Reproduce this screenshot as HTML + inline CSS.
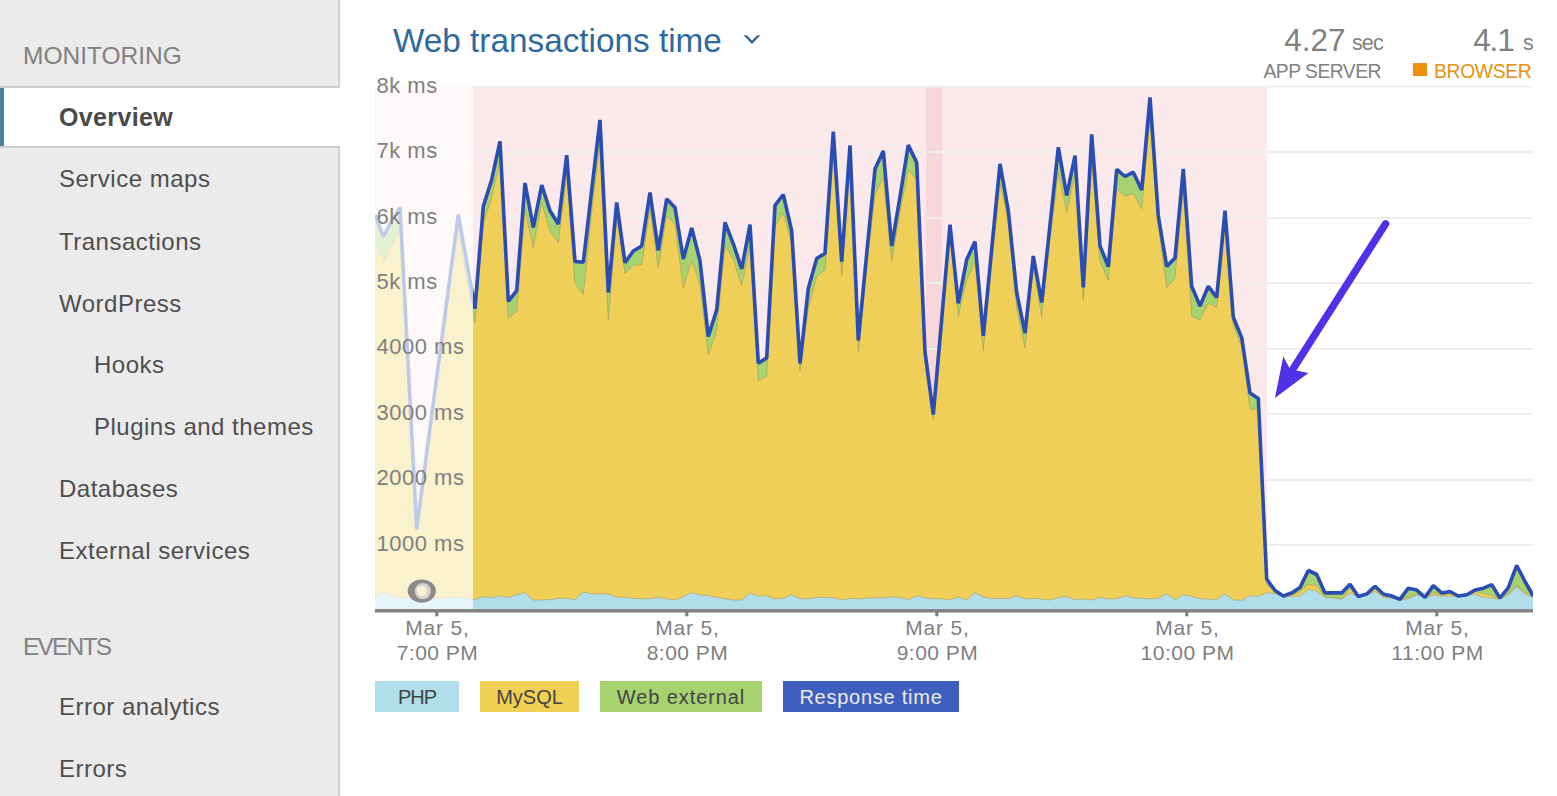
<!DOCTYPE html>
<html><head><meta charset="utf-8"><style>
html,body{margin:0;padding:0;}
body{width:1557px;height:796px;position:relative;overflow:hidden;background:#ffffff;font-family:"Liberation Sans", sans-serif;}
</style></head><body>
<div style="position:absolute;left:0;top:0;width:338px;height:796px;background:#ebebeb;"></div>
<div style="position:absolute;left:337px;top:0;width:1px;height:796px;background:#efefef;"></div>
<div style="position:absolute;left:338px;top:0;width:2px;height:796px;background:#d0d0d0;"></div>
<div style="position:absolute;left:0;top:86px;width:340px;height:2px;background:#cecece;"></div>
<div style="position:absolute;left:0;top:88px;width:340px;height:58px;background:#ffffff;"></div>
<div style="position:absolute;left:0;top:146px;width:340px;height:2px;background:#cecece;"></div>
<div style="position:absolute;left:0;top:88px;width:4px;height:58px;background:#4b7f9b;"></div>
<div style="position:absolute;left:23px;top:43.66px;font-size:24.5px;line-height:24.5px;color:#818181;font-weight:400;letter-spacing:0px;white-space:nowrap;">MONITORING</div>
<div style="position:absolute;left:59px;top:104.64px;font-size:25px;line-height:25px;color:#4a4a4a;font-weight:700;letter-spacing:0.35px;white-space:nowrap;">Overview</div>
<div style="position:absolute;left:59px;top:167.48px;font-size:24px;line-height:24px;color:#4e4e4e;font-weight:400;letter-spacing:0.5px;white-space:nowrap;">Service maps</div>
<div style="position:absolute;left:59px;top:229.98px;font-size:24px;line-height:24px;color:#4e4e4e;font-weight:400;letter-spacing:0.5px;white-space:nowrap;">Transactions</div>
<div style="position:absolute;left:59px;top:292.08px;font-size:24px;line-height:24px;color:#4e4e4e;font-weight:400;letter-spacing:0.5px;white-space:nowrap;">WordPress</div>
<div style="position:absolute;left:94px;top:353.28px;font-size:24px;line-height:24px;color:#4e4e4e;font-weight:400;letter-spacing:0.5px;white-space:nowrap;">Hooks</div>
<div style="position:absolute;left:94px;top:415.48px;font-size:24px;line-height:24px;color:#4e4e4e;font-weight:400;letter-spacing:0.5px;white-space:nowrap;">Plugins and themes</div>
<div style="position:absolute;left:59px;top:477.48px;font-size:24px;line-height:24px;color:#4e4e4e;font-weight:400;letter-spacing:0.5px;white-space:nowrap;">Databases</div>
<div style="position:absolute;left:59px;top:539.48px;font-size:24px;line-height:24px;color:#4e4e4e;font-weight:400;letter-spacing:0.5px;white-space:nowrap;">External services</div>
<div style="position:absolute;left:59px;top:695.08px;font-size:24px;line-height:24px;color:#4e4e4e;font-weight:400;letter-spacing:0.5px;white-space:nowrap;">Error analytics</div>
<div style="position:absolute;left:59px;top:757.48px;font-size:24px;line-height:24px;color:#4e4e4e;font-weight:400;letter-spacing:0.5px;white-space:nowrap;">Errors</div>
<div style="position:absolute;left:23px;top:634.56px;font-size:24.5px;line-height:24.5px;color:#818181;font-weight:400;letter-spacing:-1.8px;white-space:nowrap;">EVENTS</div>
<div style="position:absolute;left:393px;top:23.81px;font-size:33.3px;line-height:33.3px;color:#30699b;font-weight:400;letter-spacing:0px;white-space:nowrap;">Web transactions time</div>
<svg style="position:absolute;left:0;top:0" width="1557" height="796"><path d="M743.6,35.2 L746.9,35.2 L752,40.5 L757.1,35.2 L760.4,35.2 L752,43.9 Z" fill="#30699b"/></svg>
<div style="position:absolute;right:211.5px;top:24.74px;font-size:31.5px;line-height:31.5px;color:#818181;font-weight:400;letter-spacing:0px;white-space:nowrap;">4.27</div>
<div style="position:absolute;left:1352px;top:33.20px;font-size:21.5px;line-height:21.5px;color:#818181;font-weight:400;letter-spacing:-0.9px;white-space:nowrap;">sec</div>
<div style="position:absolute;right:176px;top:61.86px;font-size:19.3px;line-height:19.3px;color:#818181;font-weight:400;letter-spacing:-0.5px;white-space:nowrap;">APP SERVER</div>
<div style="position:absolute;right:43.5px;top:24.74px;font-size:31.5px;line-height:31.5px;color:#818181;font-weight:400;letter-spacing:-1.2px;white-space:nowrap;">4.1</div>
<div style="position:absolute;left:1523px;top:33.20px;font-size:21.5px;line-height:21.5px;color:#818181;font-weight:400;letter-spacing:0px;white-space:nowrap;">s</div>
<div style="position:absolute;left:1413px;top:63px;width:13.5px;height:13px;background:#ef900c;"></div>
<div style="position:absolute;right:25.5px;top:61.86px;font-size:19.3px;line-height:19.3px;color:#e8900f;font-weight:400;letter-spacing:-0.3px;white-space:nowrap;">BROWSER</div>
<svg style="position:absolute;left:0;top:0" width="1557" height="796"><defs><clipPath id="pc"><rect x="375" y="60" width="1158" height="560"/></clipPath></defs><rect x="473" y="86" width="794" height="523" fill="#fbe9eb"/><rect x="375" y="86" width="98" height="523" fill="#fbe9eb"/><rect x="926" y="86" width="16" height="523" fill="#f8d6da"/><rect x="375" y="85.8" width="1158" height="1.6" fill="#eeeeee"/><rect x="375" y="151" width="1158" height="2" fill="#eeeeee"/><rect x="375" y="217" width="1158" height="2" fill="#eeeeee"/><rect x="375" y="282" width="1158" height="2" fill="#eeeeee"/><rect x="375" y="348" width="1158" height="2" fill="#eeeeee"/><rect x="375" y="413" width="1158" height="2" fill="#eeeeee"/><rect x="375" y="479" width="1158" height="2" fill="#eeeeee"/><rect x="375" y="544" width="1158" height="2" fill="#eeeeee"/><g clip-path="url(#pc)"><path d="M375.0,609 L375.0,215.0 383.3,236.5 391.7,221.0 400.0,207.6 408.3,368.0 416.7,529.0 425.0,466.0 433.3,403.0 441.7,340.0 450.0,277.0 458.3,214.6 466.7,262.0 475.0,308.7 483.3,206.4 491.7,179.7 500.0,141.3 508.3,301.3 516.7,290.6 525.0,183.0 533.3,227.5 541.7,185.0 550.0,210.7 558.3,224.0 566.7,155.1 575.0,261.5 583.3,262.3 591.7,190.0 600.0,119.9 608.3,292.5 616.7,202.5 625.0,262.8 633.3,251.0 641.7,246.0 650.0,192.5 658.3,250.5 666.7,198.9 675.0,207.5 683.3,259.0 691.7,228.0 700.0,260.7 708.3,336.5 716.7,309.8 725.0,222.5 733.3,243.8 741.7,269.0 750.0,224.6 758.3,363.2 766.7,357.9 775.0,205.3 783.3,194.7 791.7,231.0 800.0,363.5 808.3,288.4 816.7,258.5 825.0,253.3 833.3,131.6 841.7,261.7 850.0,145.5 858.3,340.5 866.7,253.8 875.0,169.0 883.3,151.0 891.7,246.0 900.0,196.8 908.3,145.0 916.7,162.6 925.0,352.0 933.3,414.5 941.7,319.0 950.0,224.6 958.3,303.3 966.7,259.6 975.0,241.6 983.3,335.8 991.7,249.0 1000.0,163.8 1008.3,210.7 1016.7,292.7 1025.0,333.0 1033.3,256.0 1041.7,302.5 1050.0,225.0 1058.3,147.3 1066.7,195.5 1075.0,155.5 1083.3,287.4 1091.7,134.3 1100.0,245.9 1108.3,266.5 1116.7,169.3 1125.0,176.5 1133.3,172.2 1141.7,190.0 1150.0,97.5 1158.3,216.0 1166.7,266.5 1175.0,258.0 1183.3,169.0 1191.7,286.3 1200.0,306.0 1208.3,286.3 1216.7,297.5 1225.0,210.7 1233.3,317.3 1241.7,337.6 1250.0,393.1 1258.3,398.4 1266.7,579.0 1275.0,590.5 1283.3,596.0 1291.7,592.9 1300.0,587.6 1308.3,570.5 1316.7,574.5 1325.0,592.9 1333.3,592.9 1341.7,592.9 1350.0,584.3 1358.3,596.4 1366.7,594.0 1375.0,586.2 1383.3,594.0 1391.7,596.0 1400.0,599.3 1408.3,588.2 1416.7,590.1 1425.0,597.4 1433.3,585.6 1441.7,592.9 1450.0,591.5 1458.3,596.0 1466.7,594.8 1475.0,590.1 1483.3,588.2 1491.7,584.6 1500.0,598.0 1508.3,587.6 1516.7,565.5 1525.0,581.5 1533.3,596.0 L1533.3,609 Z" fill="#a6d270" stroke="none"/><path d="M375.0,609 L375.0,239.0 383.3,262.5 391.7,245.0 400.0,229.6 408.3,375.0 416.7,531.0 425.0,470.0 433.3,407.0 441.7,345.0 450.0,283.0 458.3,229.6 466.7,280.0 475.0,322.7 483.3,223.4 491.7,197.7 500.0,160.3 508.3,318.3 516.7,311.6 525.0,210.0 533.3,247.5 541.7,203.0 550.0,230.7 558.3,243.0 566.7,175.1 575.0,283.5 583.3,294.3 591.7,212.0 600.0,142.9 608.3,320.5 616.7,217.5 625.0,273.8 633.3,265.0 641.7,265.0 650.0,208.5 658.3,267.5 666.7,215.9 675.0,224.5 683.3,288.0 691.7,260.0 700.0,285.7 708.3,354.5 716.7,330.8 725.0,245.5 733.3,258.8 741.7,286.0 750.0,245.6 758.3,381.2 766.7,375.9 775.0,226.3 783.3,212.7 791.7,244.0 800.0,371.5 808.3,308.4 816.7,276.5 825.0,270.3 833.3,146.6 841.7,275.7 850.0,157.5 858.3,351.5 866.7,265.8 875.0,195.0 883.3,177.0 891.7,261.0 900.0,211.8 908.3,170.0 916.7,179.6 925.0,362.0 933.3,419.5 941.7,327.0 950.0,234.6 958.3,316.3 966.7,279.6 975.0,261.6 983.3,350.8 991.7,261.0 1000.0,182.8 1008.3,220.7 1016.7,307.7 1025.0,348.0 1033.3,266.0 1041.7,317.5 1050.0,237.0 1058.3,172.3 1066.7,212.5 1075.0,173.5 1083.3,300.4 1091.7,161.3 1100.0,260.9 1108.3,280.5 1116.7,188.3 1125.0,196.5 1133.3,193.2 1141.7,209.0 1150.0,117.5 1158.3,224.0 1166.7,287.5 1175.0,278.0 1183.3,189.0 1191.7,316.3 1200.0,320.0 1208.3,303.3 1216.7,307.5 1225.0,220.7 1233.3,325.3 1241.7,346.6 1250.0,409.1 1258.3,409.4 1266.7,584.6 1275.0,590.5 1283.3,596.0 1291.7,595.4 1300.0,591.5 1308.3,584.6 1316.7,585.6 1325.0,597.0 1333.3,597.8 1341.7,598.8 1350.0,589.0 1358.3,597.0 1366.7,594.5 1375.0,589.0 1383.3,596.0 1391.7,597.5 1400.0,600.0 1408.3,597.5 1416.7,594.0 1425.0,597.4 1433.3,592.5 1441.7,595.0 1450.0,594.0 1458.3,596.2 1466.7,595.5 1475.0,591.5 1483.3,593.5 1491.7,595.4 1500.0,599.0 1508.3,593.5 1516.7,585.7 1525.0,592.2 1533.3,597.0 L1533.3,609 Z" fill="#efcf57" stroke="none"/><polyline points="375.0,239.0 383.3,262.5 391.7,245.0 400.0,229.6 408.3,375.0 416.7,531.0 425.0,470.0 433.3,407.0 441.7,345.0 450.0,283.0 458.3,229.6 466.7,280.0 475.0,322.7 483.3,223.4 491.7,197.7 500.0,160.3 508.3,318.3 516.7,311.6 525.0,210.0 533.3,247.5 541.7,203.0 550.0,230.7 558.3,243.0 566.7,175.1 575.0,283.5 583.3,294.3 591.7,212.0 600.0,142.9 608.3,320.5 616.7,217.5 625.0,273.8 633.3,265.0 641.7,265.0 650.0,208.5 658.3,267.5 666.7,215.9 675.0,224.5 683.3,288.0 691.7,260.0 700.0,285.7 708.3,354.5 716.7,330.8 725.0,245.5 733.3,258.8 741.7,286.0 750.0,245.6 758.3,381.2 766.7,375.9 775.0,226.3 783.3,212.7 791.7,244.0 800.0,371.5 808.3,308.4 816.7,276.5 825.0,270.3 833.3,146.6 841.7,275.7 850.0,157.5 858.3,351.5 866.7,265.8 875.0,195.0 883.3,177.0 891.7,261.0 900.0,211.8 908.3,170.0 916.7,179.6 925.0,362.0 933.3,419.5 941.7,327.0 950.0,234.6 958.3,316.3 966.7,279.6 975.0,261.6 983.3,350.8 991.7,261.0 1000.0,182.8 1008.3,220.7 1016.7,307.7 1025.0,348.0 1033.3,266.0 1041.7,317.5 1050.0,237.0 1058.3,172.3 1066.7,212.5 1075.0,173.5 1083.3,300.4 1091.7,161.3 1100.0,260.9 1108.3,280.5 1116.7,188.3 1125.0,196.5 1133.3,193.2 1141.7,209.0 1150.0,117.5 1158.3,224.0 1166.7,287.5 1175.0,278.0 1183.3,189.0 1191.7,316.3 1200.0,320.0 1208.3,303.3 1216.7,307.5 1225.0,220.7 1233.3,325.3 1241.7,346.6 1250.0,409.1 1258.3,409.4 1266.7,584.6 1275.0,590.5 1283.3,596.0 1291.7,595.4 1300.0,591.5 1308.3,584.6 1316.7,585.6 1325.0,597.0 1333.3,597.8 1341.7,598.8 1350.0,589.0 1358.3,597.0 1366.7,594.5 1375.0,589.0 1383.3,596.0 1391.7,597.5 1400.0,600.0 1408.3,597.5 1416.7,594.0 1425.0,597.4 1433.3,592.5 1441.7,595.0 1450.0,594.0 1458.3,596.2 1466.7,595.5 1475.0,591.5 1483.3,593.5 1491.7,595.4 1500.0,599.0 1508.3,593.5 1516.7,585.7 1525.0,592.2 1533.3,597.0" fill="none" stroke="#a89a5a" stroke-width="1" opacity="0.6"/><path d="M375.0,609 L375.0,597.0 383.3,591.9 391.7,596.0 400.0,597.0 408.3,598.0 416.7,597.5 425.0,597.0 433.3,598.0 441.7,597.5 450.0,598.0 458.3,597.0 466.7,598.0 475.0,599.6 483.3,596.5 491.7,597.8 500.0,595.7 508.3,597.5 516.7,594.4 525.0,592.6 533.3,600.0 541.7,600.0 550.0,599.6 558.3,598.3 566.7,598.3 575.0,599.6 583.3,592.1 591.7,593.9 600.0,593.9 608.3,593.9 616.7,597.2 625.0,597.2 633.3,598.3 641.7,598.8 650.0,598.8 658.3,597.2 666.7,598.8 675.0,600.0 683.3,596.5 691.7,592.6 700.0,594.9 708.3,595.7 716.7,597.2 725.0,598.8 733.3,600.0 741.7,600.0 750.0,593.1 758.3,596.2 766.7,595.7 775.0,599.0 783.3,598.3 791.7,594.7 800.0,598.8 808.3,598.8 816.7,597.2 825.0,597.5 833.3,597.8 841.7,600.0 850.0,598.3 858.3,599.0 866.7,598.0 875.0,597.8 883.3,597.8 891.7,596.7 900.0,597.5 908.3,599.6 916.7,595.7 925.0,597.8 933.3,598.8 941.7,598.8 950.0,600.0 958.3,596.7 966.7,600.0 975.0,592.6 983.3,597.0 991.7,598.8 1000.0,598.3 1008.3,598.8 1016.7,595.7 1025.0,599.0 1033.3,598.3 1041.7,599.0 1050.0,600.0 1058.3,597.5 1066.7,596.5 1075.0,599.6 1083.3,599.0 1091.7,600.0 1100.0,597.5 1108.3,599.0 1116.7,598.8 1125.0,595.7 1133.3,597.8 1141.7,598.3 1150.0,598.8 1158.3,598.3 1166.7,593.7 1175.0,599.6 1183.3,594.7 1191.7,596.2 1200.0,598.8 1208.3,599.0 1216.7,599.6 1225.0,593.7 1233.3,600.0 1241.7,600.3 1250.0,595.7 1258.3,596.2 1266.7,592.6 1275.0,593.5 1283.3,596.8 1291.7,596.5 1300.0,596.0 1308.3,589.5 1316.7,591.0 1325.0,597.4 1333.3,598.0 1341.7,599.3 1350.0,592.9 1358.3,597.4 1366.7,595.0 1375.0,591.5 1383.3,597.4 1391.7,598.0 1400.0,600.3 1408.3,598.5 1416.7,595.0 1425.0,597.4 1433.3,595.0 1441.7,596.0 1450.0,596.0 1458.3,597.5 1466.7,596.0 1475.0,594.0 1483.3,597.4 1491.7,598.0 1500.0,599.3 1508.3,595.0 1516.7,586.6 1525.0,594.0 1533.3,597.4 L1533.3,609 Z" fill="#b0deea" stroke="none"/><polyline points="375.0,597.0 383.3,591.9 391.7,596.0 400.0,597.0 408.3,598.0 416.7,597.5 425.0,597.0 433.3,598.0 441.7,597.5 450.0,598.0 458.3,597.0 466.7,598.0 475.0,599.6 483.3,596.5 491.7,597.8 500.0,595.7 508.3,597.5 516.7,594.4 525.0,592.6 533.3,600.0 541.7,600.0 550.0,599.6 558.3,598.3 566.7,598.3 575.0,599.6 583.3,592.1 591.7,593.9 600.0,593.9 608.3,593.9 616.7,597.2 625.0,597.2 633.3,598.3 641.7,598.8 650.0,598.8 658.3,597.2 666.7,598.8 675.0,600.0 683.3,596.5 691.7,592.6 700.0,594.9 708.3,595.7 716.7,597.2 725.0,598.8 733.3,600.0 741.7,600.0 750.0,593.1 758.3,596.2 766.7,595.7 775.0,599.0 783.3,598.3 791.7,594.7 800.0,598.8 808.3,598.8 816.7,597.2 825.0,597.5 833.3,597.8 841.7,600.0 850.0,598.3 858.3,599.0 866.7,598.0 875.0,597.8 883.3,597.8 891.7,596.7 900.0,597.5 908.3,599.6 916.7,595.7 925.0,597.8 933.3,598.8 941.7,598.8 950.0,600.0 958.3,596.7 966.7,600.0 975.0,592.6 983.3,597.0 991.7,598.8 1000.0,598.3 1008.3,598.8 1016.7,595.7 1025.0,599.0 1033.3,598.3 1041.7,599.0 1050.0,600.0 1058.3,597.5 1066.7,596.5 1075.0,599.6 1083.3,599.0 1091.7,600.0 1100.0,597.5 1108.3,599.0 1116.7,598.8 1125.0,595.7 1133.3,597.8 1141.7,598.3 1150.0,598.8 1158.3,598.3 1166.7,593.7 1175.0,599.6 1183.3,594.7 1191.7,596.2 1200.0,598.8 1208.3,599.0 1216.7,599.6 1225.0,593.7 1233.3,600.0 1241.7,600.3 1250.0,595.7 1258.3,596.2 1266.7,592.6 1275.0,593.5 1283.3,596.8 1291.7,596.5 1300.0,596.0 1308.3,589.5 1316.7,591.0 1325.0,597.4 1333.3,598.0 1341.7,599.3 1350.0,592.9 1358.3,597.4 1366.7,595.0 1375.0,591.5 1383.3,597.4 1391.7,598.0 1400.0,600.3 1408.3,598.5 1416.7,595.0 1425.0,597.4 1433.3,595.0 1441.7,596.0 1450.0,596.0 1458.3,597.5 1466.7,596.0 1475.0,594.0 1483.3,597.4 1491.7,598.0 1500.0,599.3 1508.3,595.0 1516.7,586.6 1525.0,594.0 1533.3,597.4" fill="none" stroke="#a89a6a" stroke-width="1" opacity="0.6"/></g><polyline clip-path="url(#pc)" points="375.0,215.0 383.3,236.5 391.7,221.0 400.0,207.6 408.3,368.0 416.7,529.0 425.0,466.0 433.3,403.0 441.7,340.0 450.0,277.0 458.3,214.6 466.7,262.0 475.0,308.7 483.3,206.4 491.7,179.7 500.0,141.3 508.3,301.3 516.7,290.6 525.0,183.0 533.3,227.5 541.7,185.0 550.0,210.7 558.3,224.0 566.7,155.1 575.0,261.5 583.3,262.3 591.7,190.0 600.0,119.9 608.3,292.5 616.7,202.5 625.0,262.8 633.3,251.0 641.7,246.0 650.0,192.5 658.3,250.5 666.7,198.9 675.0,207.5 683.3,259.0 691.7,228.0 700.0,260.7 708.3,336.5 716.7,309.8 725.0,222.5 733.3,243.8 741.7,269.0 750.0,224.6 758.3,363.2 766.7,357.9 775.0,205.3 783.3,194.7 791.7,231.0 800.0,363.5 808.3,288.4 816.7,258.5 825.0,253.3 833.3,131.6 841.7,261.7 850.0,145.5 858.3,340.5 866.7,253.8 875.0,169.0 883.3,151.0 891.7,246.0 900.0,196.8 908.3,145.0 916.7,162.6 925.0,352.0 933.3,414.5 941.7,319.0 950.0,224.6 958.3,303.3 966.7,259.6 975.0,241.6 983.3,335.8 991.7,249.0 1000.0,163.8 1008.3,210.7 1016.7,292.7 1025.0,333.0 1033.3,256.0 1041.7,302.5 1050.0,225.0 1058.3,147.3 1066.7,195.5 1075.0,155.5 1083.3,287.4 1091.7,134.3 1100.0,245.9 1108.3,266.5 1116.7,169.3 1125.0,176.5 1133.3,172.2 1141.7,190.0 1150.0,97.5 1158.3,216.0 1166.7,266.5 1175.0,258.0 1183.3,169.0 1191.7,286.3 1200.0,306.0 1208.3,286.3 1216.7,297.5 1225.0,210.7 1233.3,317.3 1241.7,337.6 1250.0,393.1 1258.3,398.4 1266.7,579.0 1275.0,590.5 1283.3,596.0 1291.7,592.9 1300.0,587.6 1308.3,570.5 1316.7,574.5 1325.0,592.9 1333.3,592.9 1341.7,592.9 1350.0,584.3 1358.3,596.4 1366.7,594.0 1375.0,586.2 1383.3,594.0 1391.7,596.0 1400.0,599.3 1408.3,588.2 1416.7,590.1 1425.0,597.4 1433.3,585.6 1441.7,592.9 1450.0,591.5 1458.3,596.0 1466.7,594.8 1475.0,590.1 1483.3,588.2 1491.7,584.6 1500.0,598.0 1508.3,587.6 1516.7,565.5 1525.0,581.5 1533.3,596.0" fill="none" stroke="#2a4db3" stroke-width="3.6" stroke-linejoin="bevel"/><rect x="375" y="86" width="98" height="523.5" fill="#ffffff" opacity="0.7"/><rect x="375" y="609.1" width="1158" height="3.4" fill="#808080"/><rect x="435.2" y="611" width="3.2" height="5.3" fill="#808080"/><rect x="685.1999999999999" y="611" width="3.2" height="5.3" fill="#808080"/><rect x="935.1999999999999" y="611" width="3.2" height="5.3" fill="#808080"/><rect x="1185.2" y="611" width="3.2" height="5.3" fill="#808080"/><rect x="1435.2" y="611" width="3.2" height="5.3" fill="#808080"/><ellipse cx="421.8" cy="591" rx="14.1" ry="11.5" fill="#8a8a8a"/><ellipse cx="422.8" cy="591.1" rx="8" ry="8.2" fill="#d4d4d4"/><circle cx="421.9" cy="590.9" r="5" fill="#fbf2d2"/><line x1="1385.6" y1="223.8" x2="1293.3" y2="368.5" stroke="#5031e8" stroke-width="7.4" stroke-linecap="round"/><path d="M1274.9,397.9 L1283.3,356.4 L1290.2,369.2 L1308.4,373.0 Z" fill="#5031e8"/></svg>
<div style="position:absolute;left:376.5px;top:74.68px;font-size:22px;line-height:22px;color:#808080;font-weight:400;letter-spacing:0.5px;white-space:nowrap;">8k ms</div>
<div style="position:absolute;left:376.5px;top:140.11px;font-size:22px;line-height:22px;color:#808080;font-weight:400;letter-spacing:0.5px;white-space:nowrap;">7k ms</div>
<div style="position:absolute;left:376.5px;top:205.54px;font-size:22px;line-height:22px;color:#808080;font-weight:400;letter-spacing:0.5px;white-space:nowrap;">6k ms</div>
<div style="position:absolute;left:376.5px;top:270.97px;font-size:22px;line-height:22px;color:#808080;font-weight:400;letter-spacing:0.5px;white-space:nowrap;">5k ms</div>
<div style="position:absolute;left:376.5px;top:336.40px;font-size:22px;line-height:22px;color:#808080;font-weight:400;letter-spacing:0.5px;white-space:nowrap;">4000 ms</div>
<div style="position:absolute;left:376.5px;top:401.83px;font-size:22px;line-height:22px;color:#808080;font-weight:400;letter-spacing:0.5px;white-space:nowrap;">3000 ms</div>
<div style="position:absolute;left:376.5px;top:467.26px;font-size:22px;line-height:22px;color:#808080;font-weight:400;letter-spacing:0.5px;white-space:nowrap;">2000 ms</div>
<div style="position:absolute;left:376.5px;top:532.69px;font-size:22px;line-height:22px;color:#808080;font-weight:400;letter-spacing:0.5px;white-space:nowrap;">1000 ms</div>
<div style="position:absolute;left:137.5px;width:600px;text-align:center;top:617.02px;font-size:21px;line-height:21px;color:#808080;font-weight:400;letter-spacing:0.8px;white-space:nowrap;">Mar 5,</div>
<div style="position:absolute;left:137.5px;width:600px;text-align:center;top:641.82px;font-size:21px;line-height:21px;color:#808080;font-weight:400;letter-spacing:0.5px;white-space:nowrap;">7:00 PM</div>
<div style="position:absolute;left:387.5px;width:600px;text-align:center;top:617.02px;font-size:21px;line-height:21px;color:#808080;font-weight:400;letter-spacing:0.8px;white-space:nowrap;">Mar 5,</div>
<div style="position:absolute;left:387.5px;width:600px;text-align:center;top:641.82px;font-size:21px;line-height:21px;color:#808080;font-weight:400;letter-spacing:0.5px;white-space:nowrap;">8:00 PM</div>
<div style="position:absolute;left:637.5px;width:600px;text-align:center;top:617.02px;font-size:21px;line-height:21px;color:#808080;font-weight:400;letter-spacing:0.8px;white-space:nowrap;">Mar 5,</div>
<div style="position:absolute;left:637.5px;width:600px;text-align:center;top:641.82px;font-size:21px;line-height:21px;color:#808080;font-weight:400;letter-spacing:0.5px;white-space:nowrap;">9:00 PM</div>
<div style="position:absolute;left:887.5px;width:600px;text-align:center;top:617.02px;font-size:21px;line-height:21px;color:#808080;font-weight:400;letter-spacing:0.8px;white-space:nowrap;">Mar 5,</div>
<div style="position:absolute;left:887.5px;width:600px;text-align:center;top:641.82px;font-size:21px;line-height:21px;color:#808080;font-weight:400;letter-spacing:0.5px;white-space:nowrap;">10:00 PM</div>
<div style="position:absolute;left:1137.5px;width:600px;text-align:center;top:617.02px;font-size:21px;line-height:21px;color:#808080;font-weight:400;letter-spacing:0.8px;white-space:nowrap;">Mar 5,</div>
<div style="position:absolute;left:1137.5px;width:600px;text-align:center;top:641.82px;font-size:21px;line-height:21px;color:#808080;font-weight:400;letter-spacing:0.5px;white-space:nowrap;">11:00 PM</div>
<div style="position:absolute;left:375px;top:681px;width:84px;height:31px;background:#b0deea;"></div>
<div style="position:absolute;left:117.0px;width:600px;text-align:center;top:686.97px;font-size:20px;line-height:20px;color:#444;font-weight:400;letter-spacing:-1.0px;white-space:nowrap;">PHP</div>
<div style="position:absolute;left:480px;top:681px;width:99px;height:31px;background:#efd055;"></div>
<div style="position:absolute;left:229.5px;width:600px;text-align:center;top:686.97px;font-size:20px;line-height:20px;color:#444;font-weight:400;letter-spacing:0px;white-space:nowrap;">MySQL</div>
<div style="position:absolute;left:600px;top:681px;width:162px;height:31px;background:#a6d270;"></div>
<div style="position:absolute;left:381.0px;width:600px;text-align:center;top:686.97px;font-size:20px;line-height:20px;color:#444;font-weight:400;letter-spacing:0.9px;white-space:nowrap;">Web external</div>
<div style="position:absolute;left:783px;top:681px;width:176px;height:31px;background:#3f5fbf;"></div>
<div style="position:absolute;left:571.0px;width:600px;text-align:center;top:686.97px;font-size:20px;line-height:20px;color:#ececec;font-weight:400;letter-spacing:0.75px;white-space:nowrap;">Response time</div>
</body></html>
